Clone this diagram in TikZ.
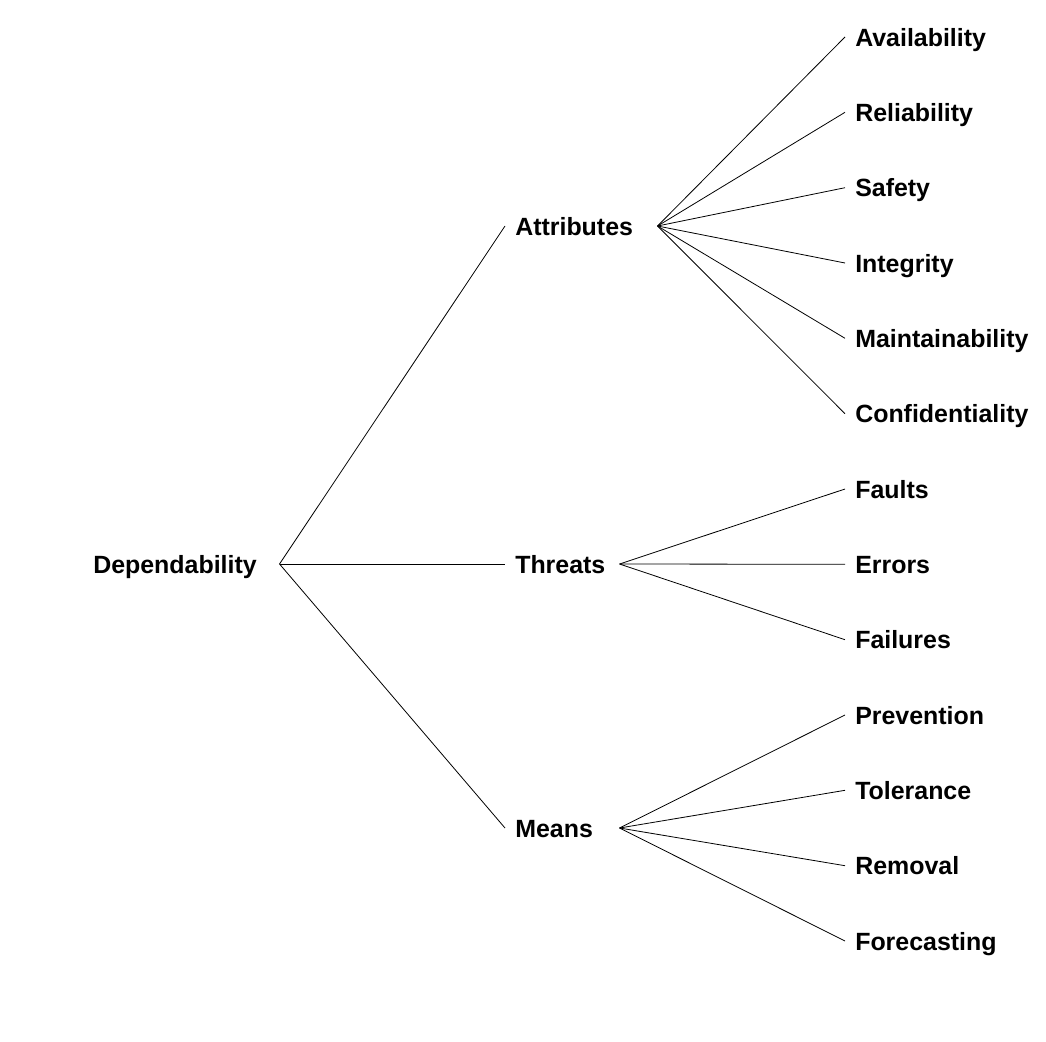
\documentclass[tikz,border=0pt]{standalone}
\usepackage{fontspec}
\setmainfont{Liberation Sans}
\tikzset{
    %Define style for text labels
    term/.style={
      inner xsep=7.5pt,
      inner ysep=0pt,
      anchor=west,
      align=left,
      text height=15pt,
      text depth=1.4pt,
      font=\fontsize{18.7}{22}\selectfont\bfseries},
    % Define line style
    link/.style={
      line width=0.6pt}
}
\begin{document}
\begin{tikzpicture}[x=0.75pt, y=-0.75pt]
    \useasboundingbox (0,0) rectangle (1046,1042);
    \node[term, text width=132pt] (dep) at (83,564) {Dependability};
    \node[term, text width=99pt] (attr) at (505,226) {Attributes};
    \node[term, text width=70.5pt] (threats) at (505,564) {Threats};
    \node[term, text width=70.5pt] (means) at (505,828) {Means};
    % attributes
    \node[term] (avail) at (845,37) {Availability};
    \node[term] (rel) at (845,112.3) {Reliability};
    \node[term] (safety) at (845,187.7) {Safety};
    \node[term] (integ) at (845,263) {Integrity};
    \node[term] (maint) at (845,338.3) {Maintainability};
    \node[term] (conf) at (845,413.7) {Confidentiality};
    % threats
    \node[term] (faults) at (845,489) {Faults};
    \node[term] (errors) at (845,564.3) {Errors};
    \node[term] (failures) at (845,639.7) {Failures};
    % means
    \node[term] (prev) at (845,715) {Prevention};
    \node[term] (toler) at (845,790.3) {Tolerance};
    \node[term] (removal) at (845,865.7) {Removal};
    \node[term] (forecast) at (845,941) {Forecasting};
    \path (dep.east) edge[link] (attr.west)
                     edge[link] (threats.west)
                     edge[link] (means.west);
    \path (attr.east) edge[link] (avail.west)
                      edge[link] (rel.west)
                      edge[link] (safety.west)
                      edge[link] (integ.west)
                      edge[link] (maint.west)
                      edge[link] (conf.west);
    \path (threats.east) edge[link] (faults.west)
                         edge[link] (errors.west)
                         edge[link] (failures.west);
    \path (means.east) edge[link] (prev.west)
                       edge[link] (toler.west)
                       edge[link] (removal.west)
                       edge[link] (forecast.west);
\end{tikzpicture}
\end{document}
